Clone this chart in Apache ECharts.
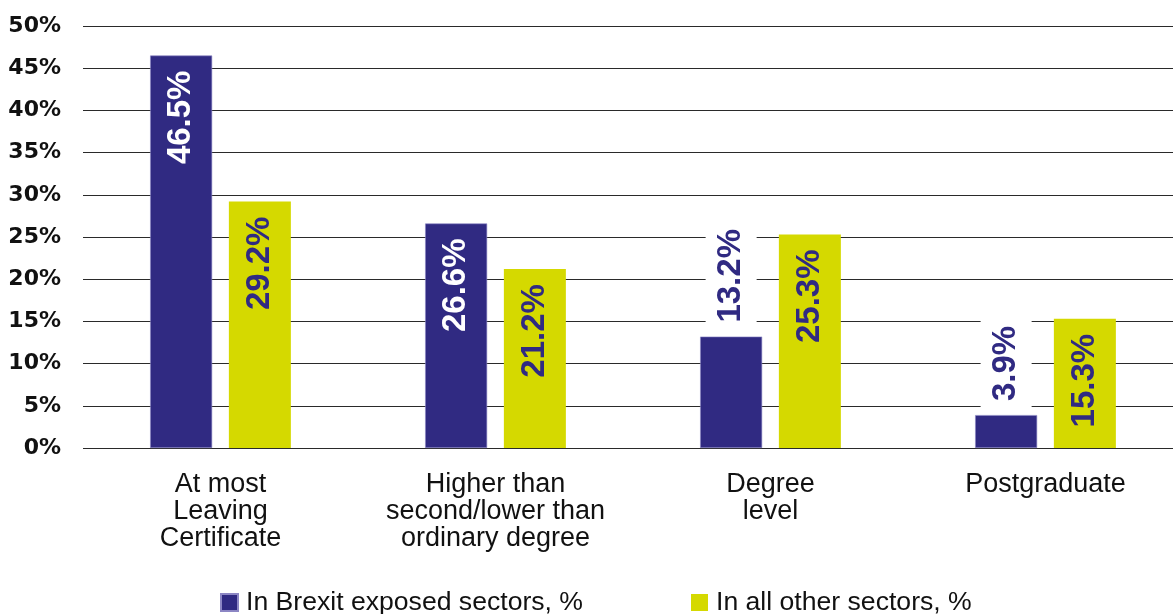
<!DOCTYPE html>
<html>
<head>
<meta charset="utf-8">
<script src="https://cdn.jsdelivr.net/npm/echarts@6/dist/echarts.min.js"></script>
<style>
  html, body { margin: 0; padding: 0; background: #ffffff; }
  #chart { width: 1173px; height: 614px; }
</style>
</head>
<body>
<div id="chart"></div>
<script>
const categories = [
  'At most\nLeaving\nCertificate',
  'Higher than\nsecond/lower than\nordinary degree',
  'Degree\nlevel',
  'Postgraduate'
];
const seriesNames = ['In Brexit exposed sectors, %', 'In all other sectors, %'];
const brexitValues = [46.5, 26.6, 13.2, 3.9];
const otherValues = [29.2, 21.2, 25.3, 15.3];
const yMin = 0, yMax = 50, yStep = 5;

const BLUE = '#302A82';
const YELLOW = '#D5D900';
const LABEL_FONT = '"Liberation Sans", Arial, sans-serif';

function insideLabel(color) {
  return {
    show: true, position: 'insideTop', distance: 15, rotate: 90,
    align: 'right', verticalAlign: 'middle',
    color: color, fontFamily: LABEL_FONT, fontWeight: 'bold', fontSize: 33,
    formatter: p => p.value.toFixed(1) + '%'
  };
}
function outsideLabel(color) {
  return {
    show: true, position: 'top', distance: 8, rotate: 90,
    align: 'left', verticalAlign: 'middle',
    color: color, fontFamily: LABEL_FONT, fontWeight: 'bold', fontSize: 33,
    backgroundColor: '#ffffff', padding: [9, 6, 9, 6],
    formatter: p => p.value.toFixed(1) + '%'
  };
}
function buildData(values, insideColor, outsideColor) {
  return values.map(v => ({
    value: v,
    label: v < 15 ? outsideLabel(outsideColor) : insideLabel(insideColor)
  }));
}

const chart = echarts.init(document.getElementById('chart'), null, { renderer: 'canvas' });
chart.setOption({
  animation: false,
  backgroundColor: '#ffffff',
  grid: { left: 83, top: 26, width: 1100, height: 422, containLabel: false, outerBoundsMode: 'none' },
  legend: {
    data: seriesNames,
    left: 220, top: 589, padding: 0,
    itemWidth: 17, itemHeight: 17, itemGap: 108,
    icon: 'rect',
    textStyle: { fontFamily: LABEL_FONT, fontSize: 26.6, color: '#111111', padding: [0, 0, 0, 3] }
  },
  xAxis: {
    type: 'category',
    data: categories,
    axisLine: { show: false },
    axisTick: { show: false },
    axisLabel: {
      interval: 0, margin: 23,
      fontFamily: LABEL_FONT, fontSize: 27, lineHeight: 27, color: '#111111'
    }
  },
  yAxis: {
    type: 'value',
    min: yMin, max: yMax, interval: yStep,
    axisLine: { show: false },
    axisTick: { show: false },
    axisLabel: {
      margin: 22, formatter: '{value}%',
      fontFamily: '"DejaVu Sans", sans-serif', fontWeight: 'bold', fontSize: 22, color: '#111111'
    },
    splitLine: { lineStyle: { color: '#2a2a2a', width: 1.2 } }
  },
  series: [
    {
      name: seriesNames[0], type: 'bar', barWidth: 62, barGap: '27%',
      itemStyle: { color: BLUE, borderColor: '#8c86c4', borderWidth: 0.6 },
      data: buildData(brexitValues, '#ffffff', BLUE)
    },
    {
      name: seriesNames[1], type: 'bar', barWidth: 62, barGap: '27%',
      itemStyle: { color: YELLOW },
      data: buildData(otherValues, BLUE, BLUE)
    }
  ]
});
</script>
</body>
</html>
